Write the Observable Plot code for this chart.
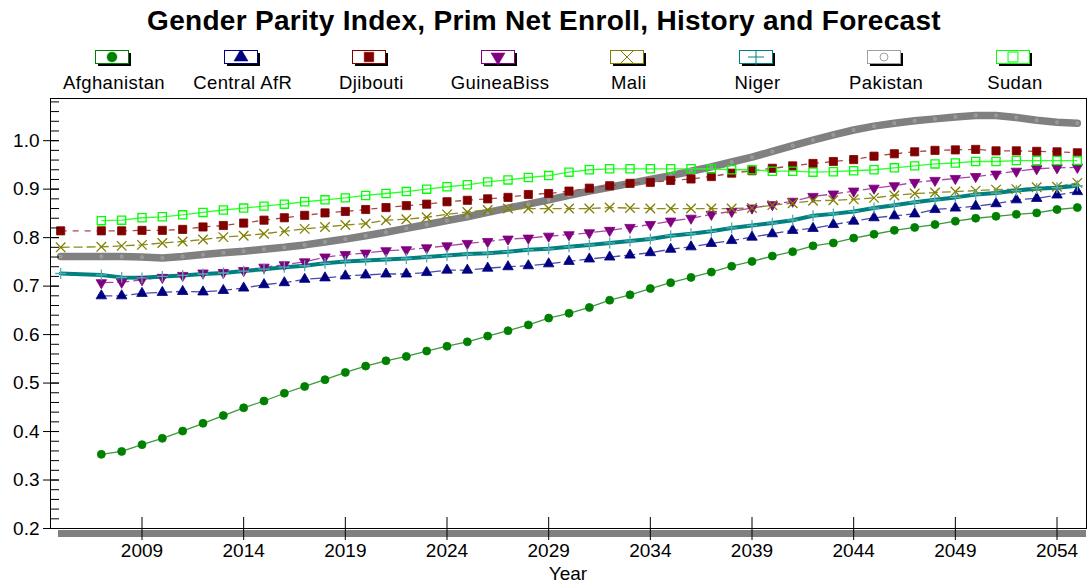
<!DOCTYPE html>
<html><head><meta charset="utf-8">
<script src="https://cdn.jsdelivr.net/npm/d3@7"></script>
<script src="https://cdn.jsdelivr.net/npm/@observablehq/plot@0.6"></script>
<style>
body{margin:0;background:#fff;font-family:"Liberation Sans",Arial,sans-serif;color:#000;}
#wrap{position:relative;width:1088px;height:584px;overflow:hidden;background:#fff;}
#title{position:absolute;left:0;top:5px;width:1088px;text-align:center;font-weight:bold;font-size:28px;letter-spacing:0.3px;line-height:32px;}
#legend{position:absolute;left:0;top:40px;width:1088px;height:50px;}
#chart{position:absolute;left:0;top:90px;}
#xlabel{position:absolute;left:518px;width:100px;top:564px;text-align:center;font-size:19px;line-height:20px;}
.lgItem{position:absolute;top:0;width:140px;height:50px;}
.lgItem svg{position:absolute;left:51px;top:10px;}
.lgItem div{position:absolute;left:0;top:33px;width:140px;text-align:center;font-size:18.5px;letter-spacing:0.4px;line-height:20px;}
</style></head><body>
<div id="wrap">
<div id="title">Gender Parity Index, Prim Net Enroll, History and Forecast</div>
<div id="legend"></div>
<div id="chart"></div>
<div id="xlabel">Year</div>
</div>
<script>
// ---- data ----
const years = [2005, 2007, 2008, 2009, 2010, 2011, 2012, 2013, 2014, 2015, 2016, 2017, 2018, 2019, 2020,
  2021, 2022, 2023, 2024, 2025, 2026, 2027, 2028, 2029, 2030, 2031, 2032, 2033, 2034, 2035, 2036, 2037,
  2038, 2039, 2040, 2041, 2042, 2043, 2044, 2045, 2046, 2047, 2048, 2049, 2050, 2051, 2052, 2053, 2054, 2055];
const seriesNames = ["Afghanistan", "Central AfR", "Djibouti", "GuineaBiss", "Mali", "Niger", "Pakistan", "Sudan"];
const afghanistan = [null, 0.353, 0.359, 0.373, 0.386, 0.401, 0.417, 0.433, 0.449, 0.463, 0.479, 0.493, 0.507, 0.522, 0.535,
  0.546, 0.555, 0.566, 0.576, 0.585, 0.597, 0.608, 0.620, 0.634, 0.644, 0.656, 0.671, 0.682, 0.695, 0.707, 0.718, 0.729,
  0.741, 0.751, 0.762, 0.771, 0.783, 0.789, 0.799, 0.807, 0.815, 0.821, 0.827, 0.834, 0.840, 0.844, 0.848, 0.851, 0.858, 0.862];
const centralAfR = [null, 0.680, 0.680, 0.685, 0.687, 0.689, 0.688, 0.691, 0.696, 0.703, 0.707, 0.714, 0.717, 0.721, 0.723,
  0.725, 0.725, 0.728, 0.733, 0.733, 0.737, 0.740, 0.742, 0.746, 0.751, 0.756, 0.760, 0.764, 0.769, 0.776, 0.781, 0.788,
  0.794, 0.801, 0.808, 0.815, 0.819, 0.827, 0.834, 0.841, 0.845, 0.849, 0.858, 0.861, 0.865, 0.870, 0.878, 0.881, 0.888, 0.895];
const djibouti = [0.814, 0.814, 0.814, 0.815, 0.815, 0.817, 0.822, 0.825, 0.830, 0.836, 0.841, 0.846, 0.851, 0.854, 0.858,
  0.862, 0.866, 0.869, 0.874, 0.877, 0.880, 0.883, 0.889, 0.891, 0.896, 0.902, 0.907, 0.912, 0.914, 0.918, 0.921, 0.926,
  0.933, 0.938, 0.943, 0.948, 0.953, 0.957, 0.961, 0.968, 0.973, 0.977, 0.980, 0.981, 0.982, 0.979, 0.979, 0.978, 0.977, 0.975];
const guineaBiss = [null, 0.707, 0.708, 0.713, 0.718, 0.722, 0.727, 0.728, 0.732, 0.739, 0.744, 0.750, 0.760, 0.765, 0.768,
  0.773, 0.775, 0.779, 0.783, 0.788, 0.792, 0.797, 0.799, 0.803, 0.806, 0.810, 0.815, 0.821, 0.827, 0.834, 0.840, 0.848,
  0.854, 0.861, 0.868, 0.875, 0.885, 0.890, 0.896, 0.902, 0.907, 0.914, 0.918, 0.922, 0.926, 0.931, 0.937, 0.942, 0.944, 0.945];
const mali = [0.780, 0.781, 0.783, 0.785, 0.789, 0.792, 0.796, 0.801, 0.804, 0.808, 0.813, 0.818, 0.822, 0.826, 0.829,
  0.836, 0.838, 0.842, 0.848, 0.853, 0.857, 0.860, 0.860, 0.860, 0.860, 0.860, 0.862, 0.861, 0.860, 0.860, 0.860, 0.860,
  0.860, 0.861, 0.867, 0.871, 0.876, 0.877, 0.879, 0.882, 0.887, 0.891, 0.893, 0.895, 0.897, 0.899, 0.900, 0.904, 0.905, 0.913];
const niger = [0.726, 0.723, 0.718, 0.717, 0.720, 0.722, 0.725, 0.727, 0.731, 0.735, 0.739, 0.742, 0.747, 0.751, 0.753,
  0.755, 0.757, 0.760, 0.763, 0.766, 0.768, 0.771, 0.775, 0.777, 0.781, 0.785, 0.789, 0.793, 0.797, 0.804, 0.808, 0.813,
  0.820, 0.825, 0.830, 0.836, 0.845, 0.849, 0.854, 0.861, 0.867, 0.873, 0.878, 0.883, 0.889, 0.892, 0.897, 0.901, 0.903, 0.907];
const pakistan = [0.761, 0.761, 0.761, 0.760, 0.758, 0.761, 0.765, 0.769, 0.772, 0.776, 0.780, 0.785, 0.791, 0.797, 0.804,
  0.811, 0.819, 0.827, 0.835, 0.843, 0.852, 0.861, 0.869, 0.878, 0.887, 0.896, 0.904, 0.912, 0.920, 0.928, 0.937, 0.946,
  0.956, 0.966, 0.978, 0.990, 1.001, 1.012, 1.022, 1.030, 1.036, 1.041, 1.045, 1.049, 1.052, 1.052, 1.048, 1.042, 1.038, 1.036];
const sudan = [null, 0.835, 0.836, 0.841, 0.843, 0.847, 0.852, 0.857, 0.861, 0.865, 0.869, 0.874, 0.878, 0.882, 0.887,
  0.891, 0.895, 0.900, 0.905, 0.909, 0.915, 0.919, 0.924, 0.928, 0.935, 0.940, 0.942, 0.942, 0.942, 0.942, 0.942, 0.942,
  0.940, 0.940, 0.937, 0.937, 0.935, 0.936, 0.938, 0.940, 0.944, 0.948, 0.952, 0.954, 0.957, 0.957, 0.959, 0.959, 0.959, 0.959];
const xTicks = [2009, 2014, 2019, 2024, 2029, 2034, 2039, 2044, 2049, 2054];
const yTicks = [0.2, 0.3, 0.4, 0.5, 0.6, 0.7, 0.8, 0.9, 1.0];
const yMinorTicks = d3.range(10, 55).map(k => k / 50);

// ---- styling ----
const triangleDown = {
  draw(context, size) {
    const s3 = Math.sqrt(3);
    const y = -Math.sqrt(size / (s3 * 3));
    context.moveTo(0, -y * 2);
    context.lineTo(-s3 * y, y);
    context.lineTo(s3 * y, y);
    context.closePath();
  }
};
const styles = {
  "Afghanistan": {values: afghanistan, color: "#008000", lineColor: "#3a9a3a", width: 1.3, dash: null, symbol: "circle", r: 4, filled: true},
  "Central AfR": {values: centralAfR, color: "#000080", lineColor: "#4a4aa8", width: 1.3, dash: "11,4", symbol: "triangle", r: 3.9, filled: true},
  "Djibouti": {values: djibouti, color: "#800000", lineColor: "#a84848", width: 1.3, dash: "6,6", symbol: "square", r: 4.6, filled: true},
  "GuineaBiss": {values: guineaBiss, color: "#800080", lineColor: "#a848a8", width: 1.3, dash: "12,4", symbol: triangleDown, r: 3.9, filled: true},
  "Mali": {values: mali, color: "#808000", lineColor: "#8a8a20", width: 1.3, dash: "9,4", symbol: "times", r: 4.4, filled: false},
  "Niger": {values: niger, color: "#008080", lineColor: "#008080", width: 4, dash: null, symbol: "plus", r: 3.6, filled: false, markColor: "#50b0b0"},
  "Pakistan": {values: pakistan, color: "#808080", lineColor: "#808080", width: 7.5, dash: null, symbol: "circle", r: 1.3, filled: false, markColor: "#a0a0a0"},
  "Sudan": {values: sudan, color: "#00ff00", lineColor: "#30ff30", width: 1.3, dash: null, symbol: "square", r: 4.6, filled: false}
};
const drawOrder = ["Pakistan", "Afghanistan", "Central AfR", "Djibouti", "GuineaBiss", "Mali", "Niger", "Sudan"];

// ---- rows ----
const rows = [];
for (const name of seriesNames) {
  styles[name].values.forEach((v, i) => { if (v != null) rows.push({series: name, year: years[i], value: v}); });
}

// ---- layout ----
const W = 1088, H = 494, mL = 50, mR = 2, mT = 8, mB = 56;
const xDomain = [2004.5, 2055.45];
const yDomain = [0.2, 1.087];
const xPerPx = (xDomain[1] - xDomain[0]) / (W - mL - mR);
const yPerPx = (yDomain[1] - yDomain[0]) / (H - mT - mB);

const marks = [
  Plot.ruleY([yDomain[0]], {stroke: "#808080", strokeWidth: 7, dy: 5, insetLeft: 8}),
  Plot.frame({stroke: "#000"})
];
for (const name of drawOrder) {
  const st = styles[name];
  const data = rows.filter(d => d.series === name);
  marks.push(Plot.line(data, {x: "year", y: "value", stroke: st.lineColor, strokeWidth: st.width,
    strokeDasharray: st.dash || undefined, strokeLinejoin: "round", strokeLinecap: name === "Pakistan" || name === "Niger" ? "round" : "butt"}));
}
for (const name of drawOrder) {
  const st = styles[name];
  const data = rows.filter(d => d.series === name);
  const mc = st.markColor || st.color;
  marks.push(Plot.dot(data, {x: "year", y: "value", symbol: () => st.symbol, r: st.r,
    fill: st.filled ? mc : (st.symbol === "square" ? "white" : "none"), stroke: mc, strokeWidth: st.filled ? 0.8 : 1.3,
    fillOpacity: st.symbol === "square" && !st.filled ? 0 : 1}));
}
marks.push(
  Plot.axisY(yTicks, {tickSize: 7, tickPadding: 4, tickFormat: d3.format(".1f"), label: null, fontSize: 19}),
  Plot.ruleY(yMinorTicks, {x1: () => xDomain[0], x2: () => xDomain[0] + 9 * xPerPx, stroke: "#000"}),
  Plot.ruleY(yTicks, {x1: () => xDomain[0], x2: () => xDomain[0] + 9 * xPerPx, stroke: "#000"}),
  Plot.axisX(xTicks, {tickSize: 12, tickPadding: 3, tickFormat: d => String(d), label: null, fontSize: 19}),
  Plot.ruleX(xTicks, {y1: () => yDomain[0], y2: () => yDomain[0] + 11 * yPerPx, stroke: "#000"})
);

const chart = Plot.plot({
  width: W, height: H, marginLeft: mL, marginRight: mR, marginTop: mT, marginBottom: mB,
  x: {domain: xDomain},
  y: {domain: yDomain},
  style: {fontFamily: '"Liberation Sans", Arial, sans-serif', fontSize: "19px", color: "#000", background: "transparent", overflow: "visible"},
  marks
});
document.getElementById("chart").appendChild(chart);

// ---- legend ----
const legendScale = {"Afghanistan": 5, "Central AfR": 5.2, "Djibouti": 5.4, "GuineaBiss": 5.2, "Mali": 5.6, "Niger": 5.2, "Pakistan": 4, "Sudan": 5.6};
const legend = d3.select("#legend");
seriesNames.forEach((name, i) => {
  const st = styles[name];
  const cx = 114 + 128.7 * i;
  const item = legend.append("div").attr("class", "lgItem").style("left", (cx - 70) + "px");
  const svg = item.append("svg").attr("width", 38).attr("height", 18);
  svg.append("rect").attr("x", 3).attr("y", 3).attr("width", 33).attr("height", 13).attr("fill", "#000");
  svg.append("rect").attr("x", 0.5).attr("y", 0.5).attr("width", 33).attr("height", 13).attr("fill", "#fff").attr("stroke", st.color === "#808080" ? "#a0a0a0" : st.color);
  const sym = typeof st.symbol === "string"
    ? {circle: d3.symbolCircle, triangle: d3.symbolTriangle, square: d3.symbolSquare, times: d3.symbolTimes, plus: d3.symbolPlus}[st.symbol]
    : st.symbol;
  const lr = legendScale[name];
  svg.append("path").attr("transform", "translate(17,7)")
    .attr("d", d3.symbol(sym, Math.PI * lr * lr)())
    .attr("fill", st.filled ? st.color : "none")
    .attr("stroke", name === "Pakistan" ? "#a0a0a0" : st.color).attr("stroke-width", st.filled ? 0.5 : 1);
  item.append("div").text(name);
});
</script>
</body></html>
